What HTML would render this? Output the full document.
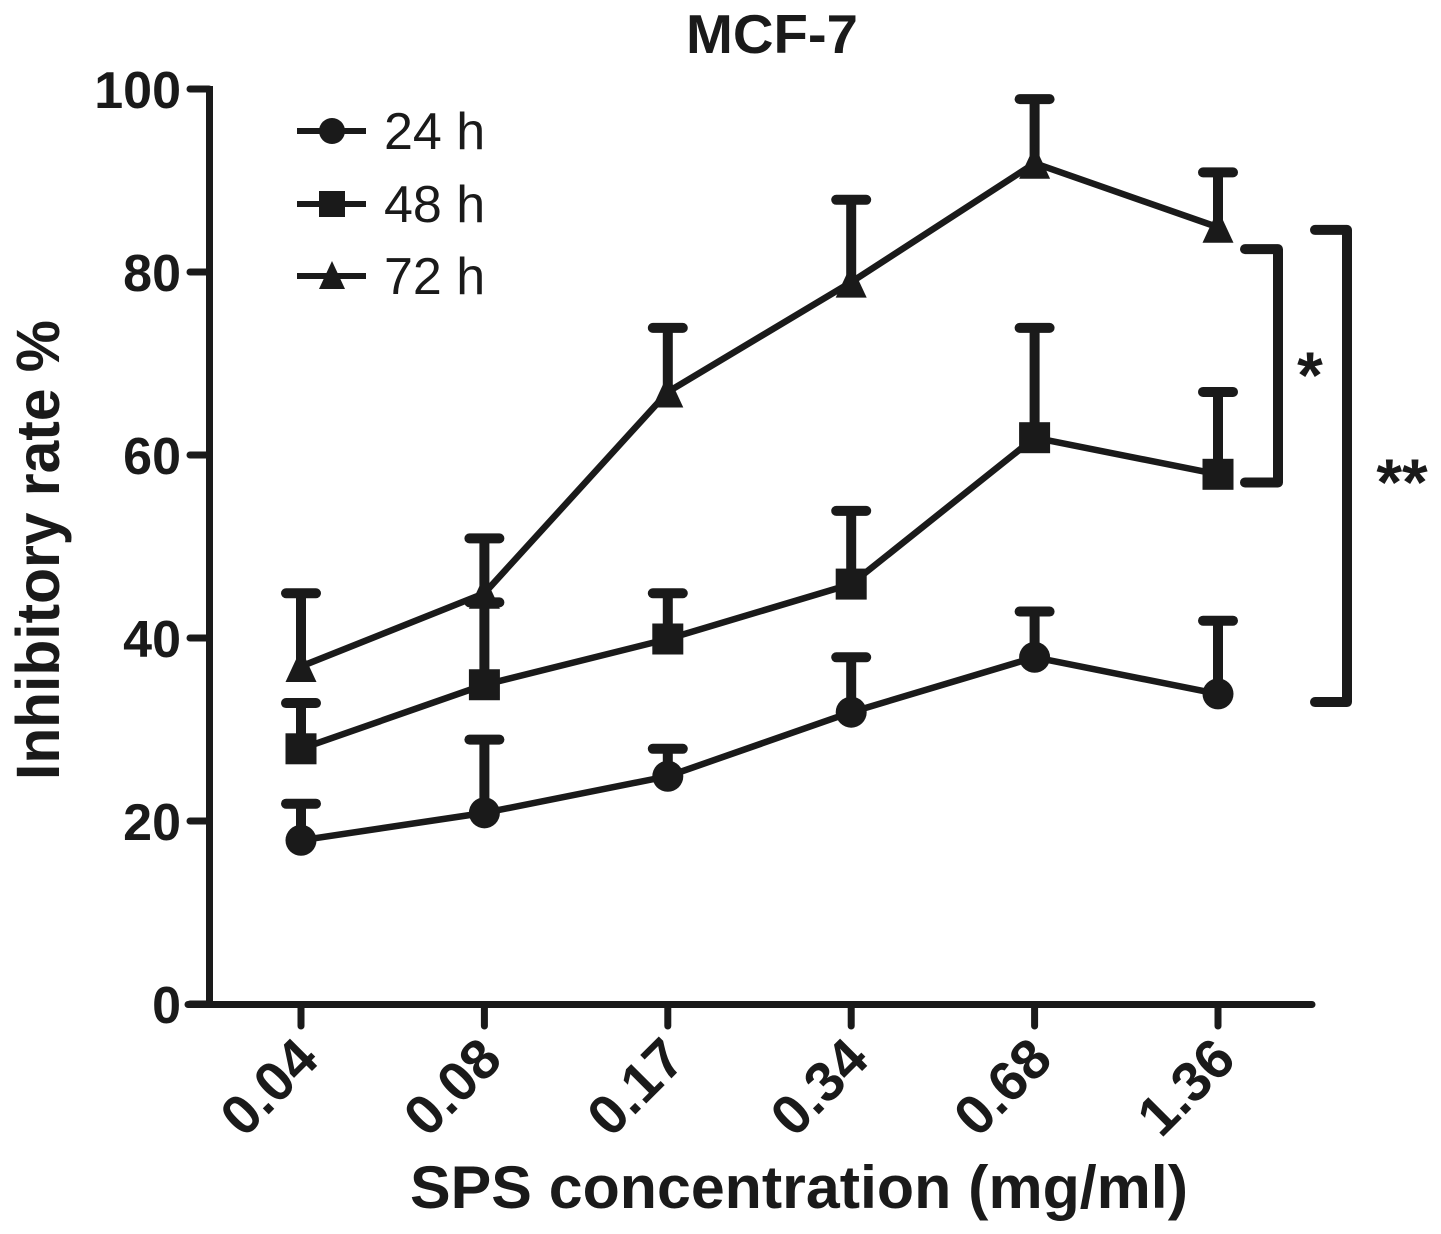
<!DOCTYPE html>
<html lang="en">
<head>
<meta charset="utf-8">
<title>MCF-7 inhibitory rate</title>
<style>
html,body{margin:0;padding:0;background:#fff;}
svg{display:block;}
text{font-family:"Liberation Sans",Arial,sans-serif;fill:#1a1a1a;}
.b{font-weight:bold;}
</style>
</head>
<body>
<svg id="chart" xmlns="http://www.w3.org/2000/svg" width="1441" height="1234" viewBox="0 0 1441 1234">
<rect width="1441" height="1234" fill="#fff"/>
<text class="b" x="686" y="53" font-size="55" textLength="172" lengthAdjust="spacingAndGlyphs">MCF-7</text>
<text class="b" transform="translate(59,780) rotate(-90)" font-size="61" textLength="460" lengthAdjust="spacingAndGlyphs">Inhibitory rate %</text>
<text class="b" x="410" y="1208" font-size="60" textLength="778" lengthAdjust="spacingAndGlyphs">SPS concentration (mg/ml)</text>
<g id="axes"></g>
<g id="plot" transform="translate(0,1)"></g>
<g id="legend"></g>
<g id="sig"></g>
</svg>
<script>
const categories = ['0.04', '0.08', '0.17', '0.34', '0.68', '1.36'];
const yTickLabels = [0, 20, 40, 60, 80, 100];
const seriesNames = ['24 h', '48 h', '72 h'];
const values24h = [18, 21, 25, 32, 38, 34];
const upper24h = [22, 29, 28, 38, 43, 42];
const values48h = [28, 35, 40, 46, 62, 58];
const upper48h = [33, 44, 45, 54, 74, 67];
const values72h = [37, 45, 67, 79, 92, 85];
const upper72h = [45, 51, 74, 88, 99, 91];
const bracketSingle = [82.5, 57];
const bracketDouble = [84.6, 33];

const NS = 'http://www.w3.org/2000/svg';
const INK = '#1a1a1a';
function yScale(v) { return 1004 - v * 9.15; }
function xScale(i) { return 301 + i * 183.4; }
function make(parent, tag, attrs) {
  const el = document.createElementNS(NS, tag);
  for (const k in attrs) el.setAttribute(k, attrs[k]);
  parent.appendChild(el);
  return el;
}
function seg(parent, x1, y1, x2, y2, w, cap) {
  return make(parent, 'line', {x1: x1, y1: y1, x2: x2, y2: y2, stroke: INK, 'stroke-width': w, 'stroke-linecap': cap || 'butt'});
}
function marker(parent, kind, cx, cy, s) {
  if (kind === 0) return make(parent, 'circle', {cx: cx, cy: cy, r: s, fill: INK});
  if (kind === 1) return make(parent, 'rect', {x: cx - s, y: cy - s, width: 2 * s, height: 2 * s, fill: INK});
  return make(parent, 'polygon', {points: (cx - s) + ',' + (cy + s) + ' ' + (cx + s) + ',' + (cy + s) + ' ' + cx + ',' + (cy - s * 1.15), fill: INK});
}

const axes = document.getElementById('axes');
const yLine = seg(axes, 209.5, 86, 209.5, 1008, 7);


const xLine = seg(axes, 188, 1004.5, 1312, 1004.5, 7, 'round');



yTickLabels.forEach(function (t) {
  const y = yScale(t);
  const tick = seg(axes, 190, y, 209, y, 7, 'round');
  
  
  const label = make(axes, 'text', {x: 181, y: y + 19, 'text-anchor': 'end', 'font-size': 52, 'class': 'b'});
  label.textContent = t;
  
  
});

categories.forEach(function (c, i) {
  const x = xScale(i);
  const tick = seg(axes, x, 1006, x, 1026, 7, 'round');
  
  
  const label = make(axes, 'text', {transform: 'translate(' + (x + 20) + ',1062) rotate(-45)', 'text-anchor': 'end', 'font-size': 56, 'class': 'b'});
  label.textContent = c;
  
  
});

const plot = document.getElementById('plot');
const seriesValues = [values24h, values48h, values72h];
const seriesUpper = [upper24h, upper48h, upper72h];
seriesValues.forEach(function (vals, s) {
  const group = make(plot, 'g', {});
  
  
  vals.forEach(function (v, i) {
    const x = xScale(i);
    const bar = seg(group, x, yScale(v), x, yScale(seriesUpper[s][i]), 10);
    
    
    const cap = seg(group, x - 15, yScale(seriesUpper[s][i]), x + 15, yScale(seriesUpper[s][i]), 10, 'round');
    
    
  });
  const line = make(group, 'polyline', {
    points: vals.map(function (v, i) { return xScale(i) + ',' + yScale(v); }).join(' '),
    fill: 'none', stroke: INK, 'stroke-width': 6.5, 'stroke-linejoin': 'round'
  });
  
  
  vals.forEach(function (v, i) {
    const m = marker(group, s, xScale(i), yScale(v), 15.5);
    
    
  });
});

const legend = document.getElementById('legend');
const legendY = [131, 204, 276];
seriesNames.forEach(function (n, s) {
  const row = legendY[s];
  const line = seg(legend, 297, row, 366, row, 6);
  
  
  const m = marker(legend, s, 332, row, 13);
  
  
  const label = make(legend, 'text', {x: 384, y: row + 18, 'font-size': 52});
  label.textContent = n;
  
  
});

const sig = document.getElementById('sig');
function bracket(vals, xRight, xLeft, name) {
  const top = yScale(vals[0]);
  const bottom = yScale(vals[1]);
  const p = make(sig, 'path', {
    d: 'M' + xLeft + ' ' + top + 'H' + xRight + 'V' + bottom + 'H' + xLeft,
    fill: 'none', stroke: INK, 'stroke-width': 10, 'stroke-linecap': 'round', 'stroke-linejoin': 'round'
  });
  
  
}
bracket(bracketSingle, 1278, 1245, 'bracket-single-star');
bracket(bracketDouble, 1347, 1315, 'bracket-double-star');
const star1 = make(sig, 'text', {x: 1310, y: 398, 'text-anchor': 'middle', 'font-size': 66, 'class': 'b'});
star1.textContent = '*';


const star2 = make(sig, 'text', {x: 1402, y: 505, 'text-anchor': 'middle', 'font-size': 66, 'class': 'b'});
star2.textContent = '**';


</script>
</body>
</html>
